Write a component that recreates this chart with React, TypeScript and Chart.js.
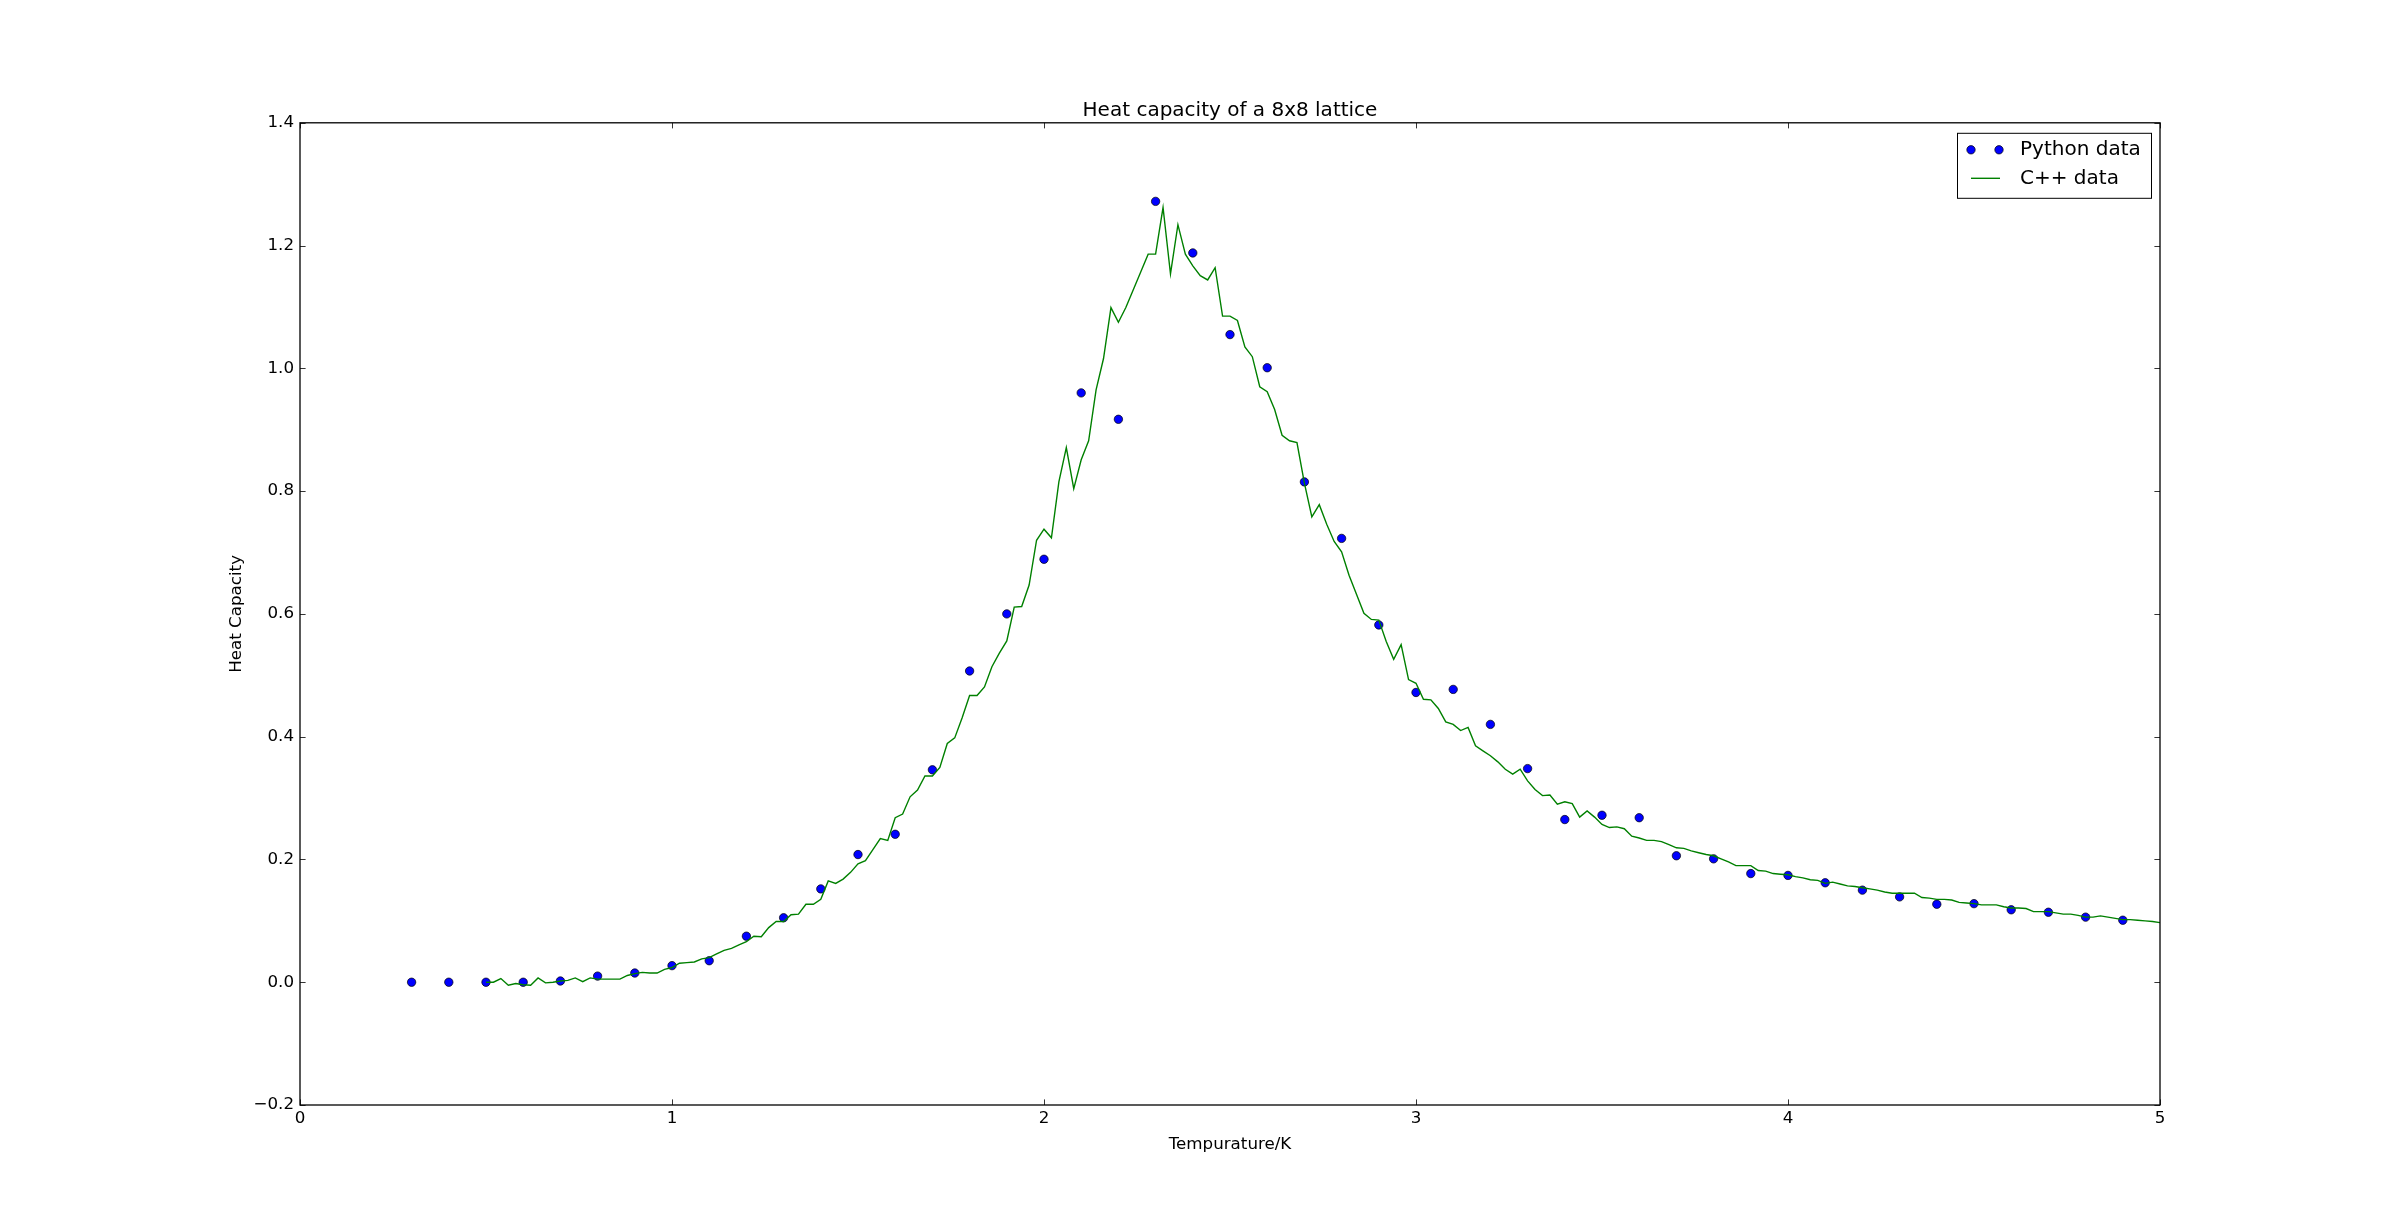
import React, { useEffect, useRef } from 'react';
import { Chart, registerables } from 'chart.js';

Chart.register(...registerables);

// ---------------- data ----------------
const TITLE = 'Heat capacity of a 8x8 lattice';
const X_LABEL = 'Tempurature/K';
const Y_LABEL = 'Heat Capacity';
const PY_LABEL = 'Python data';
const CPP_LABEL = 'C++ data';

const X_TICK_VALUES = [0, 1, 2, 3, 4, 5];
const X_TICK_LABELS = ['0', '1', '2', '3', '4', '5'];
const Y_TICK_VALUES = [-0.2, 0, 0.2, 0.4, 0.6, 0.8, 1.0, 1.2, 1.4];
const Y_TICK_LABELS = ['\u22120.2', '0.0', '0.2', '0.4', '0.6', '0.8', '1.0', '1.2', '1.4'];

const PY_T = [
  0.3, 0.4, 0.5, 0.6, 0.7, 0.8, 0.9, 1.0, 1.1, 1.2, 1.3, 1.4, 1.5, 1.6, 1.7, 1.8,
  1.9, 2.0, 2.1, 2.2, 2.3, 2.4, 2.5, 2.6, 2.7, 2.8, 2.9, 3.0, 3.1, 3.2, 3.3, 3.4,
  3.5, 3.6, 3.7, 3.8, 3.9, 4.0, 4.1, 4.2, 4.3, 4.4, 4.5, 4.6, 4.7, 4.8, 4.9,
];
const PY_C = [
  0.0, 0.0, 0.0, 0.0, 0.002, 0.010, 0.015, 0.027, 0.035, 0.075, 0.105, 0.152, 0.208, 0.241, 0.346, 0.507,
  0.600, 0.689, 0.960, 0.917, 1.272, 1.188, 1.055, 1.001, 0.815, 0.723, 0.582, 0.472, 0.477, 0.420, 0.348, 0.265,
  0.272, 0.268, 0.206, 0.201, 0.177, 0.174, 0.162, 0.150, 0.139, 0.127, 0.128, 0.118, 0.114, 0.106, 0.101,
];

const CPP_T = [
  0.50, 0.52, 0.54, 0.56, 0.58, 0.60, 0.62, 0.64, 0.66, 0.68, 0.70, 0.72, 0.74, 0.76, 0.78, 0.80, 0.82, 0.84, 0.86, 0.88, 0.90, 0.92, 0.94, 0.96, 0.98,
  1.00, 1.02, 1.04, 1.06, 1.08, 1.10, 1.12, 1.14, 1.16, 1.18, 1.20, 1.22, 1.24, 1.26, 1.28, 1.30, 1.32, 1.34, 1.36, 1.38, 1.40, 1.42, 1.44, 1.46, 1.48,
  1.50, 1.52, 1.54, 1.56, 1.58, 1.60, 1.62, 1.64, 1.66, 1.68, 1.70, 1.72, 1.74, 1.76, 1.78, 1.80, 1.82, 1.84, 1.86, 1.88, 1.90, 1.92, 1.94, 1.96, 1.98,
  2.00, 2.02, 2.04, 2.06, 2.08, 2.10, 2.12, 2.14, 2.16, 2.18, 2.20, 2.22, 2.24, 2.26, 2.28, 2.30, 2.32, 2.34, 2.36, 2.38, 2.40, 2.42, 2.44, 2.46, 2.48,
  2.50, 2.52, 2.54, 2.56, 2.58, 2.60, 2.62, 2.64, 2.66, 2.68, 2.70, 2.72, 2.74, 2.76, 2.78, 2.80, 2.82, 2.84, 2.86, 2.88, 2.90, 2.92, 2.94, 2.96, 2.98,
  3.00, 3.02, 3.04, 3.06, 3.08, 3.10, 3.12, 3.14, 3.16, 3.18, 3.20, 3.22, 3.24, 3.26, 3.28, 3.30, 3.32, 3.34, 3.36, 3.38, 3.40, 3.42, 3.44, 3.46, 3.48,
  3.50, 3.52, 3.54, 3.56, 3.58, 3.60, 3.62, 3.64, 3.66, 3.68, 3.70, 3.72, 3.74, 3.76, 3.78, 3.80, 3.82, 3.84, 3.86, 3.88, 3.90, 3.92, 3.94, 3.96, 3.98,
  4.00, 4.02, 4.04, 4.06, 4.08, 4.10, 4.12, 4.14, 4.16, 4.18, 4.20, 4.22, 4.24, 4.26, 4.28, 4.30, 4.32, 4.34, 4.36, 4.38, 4.40, 4.42, 4.44, 4.46, 4.48,
  4.50, 4.52, 4.54, 4.56, 4.58, 4.60, 4.62, 4.64, 4.66, 4.68, 4.70, 4.72, 4.74, 4.76, 4.78, 4.80, 4.82, 4.84, 4.86, 4.88, 4.90, 4.92, 4.94, 4.96, 4.98, 5.00,
];
const CPP_C = [
  0.000, 0.000, 0.006, -0.005, -0.002, -0.004, -0.005, 0.007, -0.001, 0.000, 0.002, 0.003, 0.007, 0.001, 0.007, 0.005, 0.005, 0.005, 0.005, 0.011, 0.014, 0.016, 0.015, 0.015, 0.021,
  0.024, 0.031, 0.032, 0.033, 0.038, 0.040, 0.046, 0.052, 0.055, 0.061, 0.066, 0.075, 0.074, 0.089, 0.099, 0.099, 0.110, 0.111, 0.127, 0.127, 0.135, 0.165, 0.161, 0.168, 0.179,
  0.193, 0.198, 0.216, 0.234, 0.231, 0.268, 0.274, 0.302, 0.313, 0.336, 0.336, 0.350, 0.389, 0.398, 0.431, 0.467, 0.467, 0.481, 0.514, 0.536, 0.556, 0.611, 0.612, 0.647, 0.720,
  0.738, 0.724, 0.815, 0.871, 0.804, 0.851, 0.882, 0.965, 1.016, 1.099, 1.075, 1.099, 1.128, 1.157, 1.186, 1.186, 1.262, 1.154, 1.234, 1.186, 1.167, 1.151, 1.144, 1.164, 1.085,
  1.085, 1.078, 1.035, 1.019, 0.970, 0.962, 0.933, 0.891, 0.882, 0.879, 0.813, 0.758, 0.778, 0.746, 0.718, 0.701, 0.663, 0.632, 0.601, 0.591, 0.590, 0.555, 0.526, 0.550, 0.493,
  0.487, 0.461, 0.460, 0.446, 0.424, 0.420, 0.410, 0.415, 0.385, 0.377, 0.369, 0.359, 0.347, 0.339, 0.347, 0.328, 0.314, 0.304, 0.305, 0.290, 0.294, 0.291, 0.269, 0.279, 0.269,
  0.257, 0.252, 0.253, 0.250, 0.238, 0.235, 0.231, 0.231, 0.229, 0.224, 0.219, 0.218, 0.214, 0.211, 0.208, 0.206, 0.201, 0.196, 0.190, 0.190, 0.190, 0.182, 0.181, 0.177, 0.176,
  0.175, 0.172, 0.170, 0.167, 0.166, 0.161, 0.163, 0.160, 0.157, 0.156, 0.154, 0.152, 0.150, 0.147, 0.145, 0.145, 0.145, 0.145, 0.138, 0.137, 0.135, 0.135, 0.134, 0.130, 0.129,
  0.128, 0.126, 0.126, 0.126, 0.123, 0.121, 0.121, 0.120, 0.115, 0.115, 0.115, 0.113, 0.111, 0.111, 0.109, 0.106, 0.106, 0.108, 0.106, 0.104, 0.102, 0.102, 0.101, 0.100, 0.099, 0.097,
];

// ---------------- style ----------------
const FONT = 'DejaVu Sans';
const BLUE = '#0000ff';
const GREEN = '#008000';

const W = 2400;
const H = 1228;

// inward ticks on all four sides + axes frame + title centred over the axes
const axesDecor = {
  id: 'axesDecor',
  afterDatasetsDraw(chart: any) {
    const { ctx, chartArea } = chart;
    const { left, right, top, bottom } = chartArea;
    const xs = chart.scales.x;
    const ys = chart.scales.y;
    const L = 5.6;
    ctx.save();
    ctx.strokeStyle = '#000';
    ctx.lineWidth = 0.8;
    ctx.beginPath();
    xs.ticks.forEach((t: any) => {
      const px = Math.round(xs.getPixelForValue(t.value)) + 0.5;
      ctx.moveTo(px, bottom);
      ctx.lineTo(px, bottom - L);
      ctx.moveTo(px, top);
      ctx.lineTo(px, top + L);
    });
    ys.ticks.forEach((t: any) => {
      const py = Math.round(ys.getPixelForValue(t.value)) + 0.5;
      ctx.moveTo(left, py);
      ctx.lineTo(left + L, py);
      ctx.moveTo(right, py);
      ctx.lineTo(right - L, py);
    });
    ctx.stroke();
    ctx.lineWidth = 1.3;
    ctx.strokeRect(left, top, right - left, bottom - top);

    ctx.fillStyle = '#000';
    ctx.font = `20px "${FONT}"`;
    ctx.textAlign = 'center';
    ctx.textBaseline = 'middle';
    ctx.fillText(TITLE, (left + right) / 2, top - 12);
    ctx.restore();
  },
};

// matplotlib-style legend box (two markers for the point series)
const mplLegend = {
  id: 'mplLegend',
  afterDraw(chart: any) {
    const { ctx, chartArea } = chart;
    const bw = 194;
    const bh = 65;
    const bx = chartArea.right - 9 - bw;
    const by = chartArea.top + 10;
    ctx.save();
    ctx.fillStyle = '#fff';
    ctx.fillRect(bx, by, bw, bh);
    ctx.strokeStyle = '#000';
    ctx.lineWidth = 1;
    ctx.strokeRect(bx + 0.5, by + 0.5, bw, bh);

    const row1 = by + 17;
    const row2 = by + 45.5;
    [bx + 14, bx + 42].forEach((cx) => {
      ctx.beginPath();
      ctx.arc(cx, row1, 4.2, 0, Math.PI * 2);
      ctx.fillStyle = BLUE;
      ctx.fill();
      ctx.lineWidth = 0.7;
      ctx.strokeStyle = '#000';
      ctx.stroke();
    });
    ctx.beginPath();
    ctx.moveTo(bx + 14, row2);
    ctx.lineTo(bx + 43, row2);
    ctx.strokeStyle = GREEN;
    ctx.lineWidth = 1.4;
    ctx.stroke();

    ctx.fillStyle = '#000';
    ctx.font = `20px "${FONT}"`;
    ctx.textBaseline = 'middle';
    ctx.textAlign = 'left';
    ctx.fillText(PY_LABEL, bx + 63, row1);
    ctx.fillText(CPP_LABEL, bx + 63, row2);
    ctx.restore();
  },
};

export default function App() {
  const ref = useRef<HTMLCanvasElement | null>(null);

  useEffect(() => {
    document.body.style.margin = '0';
    document.body.style.overflow = 'hidden';
    const canvas = ref.current;
    if (!canvas) return;

    Chart.defaults.font.family = FONT;
    Chart.defaults.color = '#000';

    const pyData = PY_T.map((t, i) => ({ x: t, y: PY_C[i] }));
    const cppData = CPP_T.map((t, i) => ({ x: t, y: CPP_C[i] }));

    const chart = new Chart(canvas, {
      type: 'line',
      data: {
        datasets: [
          {
            label: PY_LABEL,
            data: pyData,
            showLine: false,
            pointRadius: 4.2,
            pointHoverRadius: 4.2,
            pointBackgroundColor: BLUE,
            pointBorderColor: '#000',
            pointBorderWidth: 0.7,
            borderColor: BLUE,
            backgroundColor: BLUE,
            order: 2,
          },
          {
            label: CPP_LABEL,
            data: cppData,
            borderColor: GREEN,
            backgroundColor: GREEN,
            borderWidth: 1.4,
            pointRadius: 0,
            pointHoverRadius: 0,
            tension: 0,
            fill: false,
            order: 1,
          },
        ],
      },
      options: {
        responsive: false,
        maintainAspectRatio: false,
        devicePixelRatio: 1,
        animation: false,
        events: [],
        layout: { padding: { left: 0, right: 240, top: 122.8, bottom: 0 } },
        plugins: {
          legend: { display: false },
          tooltip: { enabled: false },
          title: { display: false },
        },
        scales: {
          x: {
            type: 'linear',
            min: 0,
            max: 5,
            afterBuildTicks: (s: any) => {
              s.ticks = X_TICK_VALUES.map((v) => ({ value: v }));
            },
            afterFit: (s: any) => {
              s.height = H - 1105;
            },
            ticks: {
              callback: (_v: any, i: number) => X_TICK_LABELS[i],
              padding: 4,
              color: '#000',
              font: { family: FONT, size: 16.7 },
              maxRotation: 0,
              autoSkip: false,
            },
            grid: { display: false, drawTicks: false },
            border: { display: false },
            title: {
              display: true,
              text: X_LABEL,
              color: '#000',
              font: { family: FONT, size: 16.7 },
              padding: { top: 0, bottom: 73 },
            },
          },
          y: {
            type: 'linear',
            min: -0.2,
            max: 1.4,
            afterBuildTicks: (s: any) => {
              s.ticks = Y_TICK_VALUES.map((v) => ({ value: v }));
            },
            afterFit: (s: any) => {
              s.width = 300;
            },
            ticks: {
              callback: (_v: any, i: number) => Y_TICK_LABELS[i],
              padding: 6,
              color: '#000',
              font: { family: FONT, size: 16.7 },
              autoSkip: false,
            },
            grid: { display: false, drawTicks: false },
            border: { display: false },
            title: {
              display: true,
              text: Y_LABEL,
              color: '#000',
              font: { family: FONT, size: 16.7 },
              padding: { top: 227, bottom: 0 },
            },
          },
        },
      },
      plugins: [axesDecor, mplLegend],
    } as any);

    return () => {
      chart.destroy();
    };
  }, []);

  return (
    <div style={{ width: W, height: H, background: '#fff' }}>
      <canvas ref={ref} width={W} height={H} style={{ display: 'block', width: W, height: H }} />
    </div>
  );
}
